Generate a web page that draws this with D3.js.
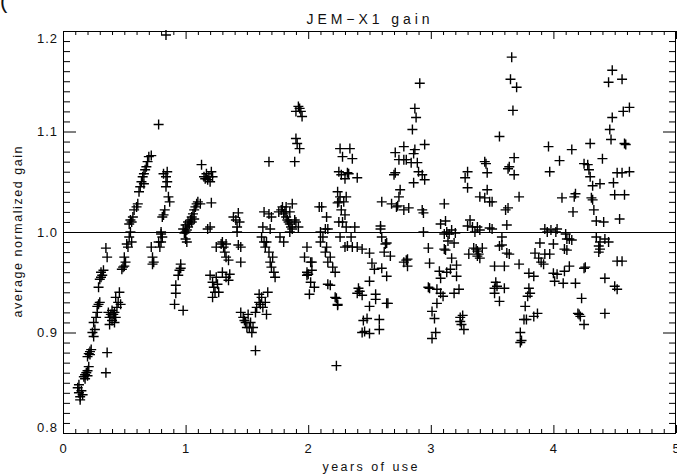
<!DOCTYPE html>
<html>
<head>
<meta charset="utf-8">
<script src="https://cdn.jsdelivr.net/npm/d3@7"></script>
<style>
body{margin:0;background:#fff;}
svg text{font-family:"Liberation Sans",Arial,sans-serif;fill:#111;}
</style>
</head>
<body>
<div id="gain_plot"></div>
<script>
/* JEM-X1 gain vs years of use, plus markers, IDL style frame */
var title="JEM\u2212X1 gain",
xLabel="years of use",
yLabel="average normalized gain";

var xTicks=[0,1,2,3,4,5],
yTicks=[0.8,0.9,1.0,1.1,1.2],
yTickLabels=["0.8","0.9","1.0","1.1","1.2"];
var refLevel=1.0;

// [years, gain], one array per year of use
var year0=[[0.12,0.845],[0.13,0.840],[0.14,0.836],[0.15,0.842],[0.13,0.848],[0.16,0.838],[0.14,0.833],
[0.17,0.856],[0.18,0.858],[0.19,0.860],[0.20,0.862],[0.18,0.854],[0.21,0.866],[0.20,0.857],
[0.20,0.876],[0.21,0.879],[0.22,0.881],[0.23,0.883],[0.22,0.878],
[0.24,0.900],[0.25,0.896],[0.26,0.903],[0.25,0.910],
[0.27,0.915],[0.28,0.920],[0.29,0.928],[0.30,0.930],[0.28,0.926],
[0.29,0.945],[0.30,0.953],[0.31,0.955],[0.32,0.957],[0.33,0.962],[0.31,0.960],
[0.35,0.984],[0.36,0.975],[0.36,0.880],[0.35,0.860],
[0.37,0.920],[0.38,0.915],[0.39,0.918],[0.40,0.922],[0.41,0.918],[0.42,0.920],[0.40,0.912],[0.43,0.915],
[0.44,0.925],[0.45,0.930],[0.43,0.935],[0.46,0.940],[0.38,0.908],[0.42,0.910],[0.47,0.928],
[0.48,0.963],[0.49,0.965],[0.50,0.966],[0.51,0.970],[0.50,0.975],[0.52,0.988],[0.53,0.985],[0.54,0.995],
[0.55,1.000],[0.56,0.990],[0.54,1.008],[0.55,1.012],[0.56,1.010],[0.57,1.015],
[0.58,1.022],[0.60,1.025],[0.61,1.028],
[0.62,1.040],[0.63,1.045],[0.64,1.050],[0.65,1.055],[0.66,1.058],[0.67,1.062],[0.68,1.065],[0.69,1.070],
[0.66,1.048],[0.70,1.075],[0.72,1.076],[0.78,1.107],[0.84,1.196],
[0.72,0.985],[0.73,0.975],[0.73,0.968],[0.74,0.970],[0.78,0.990],[0.79,0.985],[0.80,0.990],[0.81,0.995],[0.80,0.998],
[0.82,1.058],[0.84,1.055],[0.85,1.050],[0.84,1.045],[0.86,1.035],[0.87,1.030],[0.85,1.060],[0.83,1.022],
[0.82,1.017],[0.81,1.015],[0.80,1.000],
[0.96,0.964],[0.94,0.957],[0.95,0.962],[0.92,0.947],[0.92,0.939],[0.91,0.928],[0.98,0.922],[0.96,0.968],
[0.99,0.999],[0.98,1.003]];

var year1=[[1.00,1.000],[1.01,1.002],[1.02,1.005],[1.00,0.993],[1.01,0.990],[1.03,1.008],[1.05,1.010],
[1.00,1.007],[1.02,1.010],[1.04,1.012],[1.05,1.015],[1.06,1.018],[1.07,1.022],[1.08,1.025],[1.09,1.028],
[1.10,1.030],[1.07,1.013],[1.12,1.028],[1.18,1.003],[1.20,1.005],[1.21,1.029],
[1.13,1.067],[1.15,1.055],[1.16,1.053],[1.17,1.058],[1.18,1.052],[1.19,1.055],[1.20,1.050],[1.22,1.055],[1.21,1.060],
[1.25,0.985],[1.25,0.955],[1.26,0.948],[1.27,0.940],
[1.20,0.957],[1.22,0.950],[1.23,0.945],[1.24,0.940],[1.22,0.935],
[1.29,0.988],[1.30,0.990],[1.31,0.985],[1.33,0.988],[1.32,0.980],[1.33,0.975],[1.35,0.972],
[1.30,0.960],[1.33,0.955],[1.35,0.952],[1.36,0.958],
[1.43,0.987],[1.45,0.985],[1.45,0.970],[1.42,1.000],
[1.39,1.015],[1.41,1.012],[1.42,1.005],[1.43,1.019],[1.44,1.010],
[1.45,0.920],[1.47,0.915],[1.48,0.912],[1.49,0.910],[1.50,0.905],[1.51,0.918],[1.53,0.910],[1.52,0.905],
[1.54,0.900],[1.55,0.905],[1.57,0.920],[1.58,0.925],[1.60,0.930],[1.62,0.935],[1.61,0.928],[1.63,0.925],
[1.65,0.930],[1.67,0.940],[1.60,0.938],[1.66,0.918],[1.57,0.882],
[1.62,0.995],[1.64,0.990],[1.66,0.990],[1.65,0.985],[1.68,0.980],[1.69,0.970],[1.70,0.965],[1.72,0.960],
[1.73,0.955],[1.71,0.975],[1.69,1.003],
[1.63,1.005],[1.64,1.020],[1.68,1.018],[1.70,1.015],[1.68,1.070],
[1.76,1.020],[1.78,1.022],[1.79,1.025],[1.80,1.018],[1.81,1.020],[1.82,1.015],[1.83,1.012],[1.84,1.010],
[1.85,1.008],[1.86,1.005],[1.82,1.025],[1.85,1.020],[1.87,1.028],[1.89,1.012],[1.90,1.010],[1.87,1.003],
[1.85,1.000],[1.92,1.005],
[1.90,1.120],[1.92,1.125],[1.93,1.123],[1.94,1.120],[1.95,1.115],
[1.90,1.093],[1.91,1.088],[1.93,1.083],[1.89,1.070],
[1.77,0.995],[1.80,0.990],[1.97,0.975],[1.99,0.960],[1.99,0.985]];

var year2=[[2.00,0.958],[2.02,0.950],[2.03,0.962],[2.02,0.970],[2.05,0.945],[2.03,0.970],[2.01,0.938],[1.99,0.957],
[2.10,0.990],[2.12,0.995],[2.14,0.980],[2.15,0.985],[2.16,0.970],[2.18,0.975],[2.20,0.965],[2.22,0.960],[2.10,1.000],
[2.16,0.948],[2.18,0.947],[2.22,0.935],[2.24,0.928],[2.23,0.867],
[2.09,1.025],[2.15,1.015],[2.14,1.003],[2.11,1.025],[2.16,1.003],[2.24,1.029],
[2.26,1.083],[2.28,1.075],[2.25,1.060],[2.27,1.057],[2.30,1.053],
[2.24,1.040],[2.25,1.030],[2.26,1.035],[2.27,1.022],[2.25,1.010],[2.31,1.005],
[2.34,1.083],[2.36,1.073],[2.32,1.059],[2.33,1.058],[2.40,1.054],[2.29,1.030],[2.31,1.035],[2.30,1.017],
[2.28,1.010],[2.38,1.005],
[2.26,0.995],[2.30,0.985],[2.36,0.985],[2.40,0.985],[2.35,0.995],[2.32,0.986],
[2.44,0.983],[2.50,0.979],[2.52,0.969],[2.54,0.963],[2.50,0.951],[2.60,0.964],[2.64,0.956],[2.67,0.976],[2.64,0.989],
[2.41,0.944],[2.42,0.941],[2.40,0.939],[2.44,0.937],[2.55,0.938],[2.55,0.933],[2.50,0.926],[2.64,0.929],[2.65,0.929],
[2.48,0.914],[2.58,0.913],[2.46,0.901],[2.50,0.899],[2.58,0.903],[2.45,0.912],[2.44,0.900],
[2.23,0.934],[2.24,0.927],
[2.81,0.973],[2.81,0.966],[2.80,0.972],[2.78,0.970],
[2.60,0.995],[2.63,0.988],[2.62,0.980],[2.59,1.003],[2.59,1.006],
[2.60,1.030],[2.68,1.028],[2.72,1.025],[2.78,1.022],[2.73,1.026],[2.82,1.024],
[2.91,1.148],[2.87,1.123],[2.88,1.114],[2.85,1.102],[2.95,1.087],[2.78,1.085],[2.71,1.079],[2.87,1.082],
[2.86,1.078],[2.78,1.072],[2.80,1.072],[2.74,1.072],[2.89,1.069],[2.84,1.069],[2.71,1.059],[2.70,1.057],
[2.90,1.060],[2.93,1.057],[2.95,1.052],[2.86,1.049],[2.75,1.042],[2.74,1.035],[2.93,1.022],[2.94,1.019],[2.94,1.000],
[2.98,0.984],[2.99,0.969],[2.98,0.945]];

var year3=[[3.07,0.961],[3.08,0.954],[2.99,0.944],[3.05,0.943],[3.08,0.939],[3.10,0.936],[3.05,0.929],[3.01,0.921],
[3.03,0.914],[3.04,0.900],[3.01,0.894],
[3.11,0.983],[3.17,0.974],[3.16,0.963],[3.21,0.956],[3.19,0.939],[3.23,0.943],[3.19,0.989],[3.14,0.991],
[3.12,0.982],[3.13,0.960],[3.21,0.967],
[3.24,0.911],[3.25,0.908],[3.27,0.903],[3.24,0.915],[3.26,0.917],
[3.31,0.978],[3.38,0.981],[3.39,0.978],[3.40,0.974],[3.42,0.984],[3.37,0.983],[3.35,0.984],[3.38,0.976],
[3.52,0.966],[3.60,0.966],[3.64,0.978],[3.56,0.986],[3.52,0.944],[3.54,0.946],[3.60,0.944],[3.52,0.939],
[3.56,0.931],[3.53,0.950],
[3.72,0.968],[3.80,0.959],[3.84,0.956],[3.80,0.944],[3.81,0.939],[3.79,0.936],[3.77,0.926],[3.87,0.919],
[3.84,0.916],[3.76,0.913],[3.78,0.913],[3.73,0.900],[3.74,0.892],[3.73,0.890],
[3.85,0.979],[3.88,0.974],[3.90,0.970],[3.89,0.989],[3.93,0.978],[3.97,0.978],[3.92,0.968],
[3.11,1.028],[3.12,1.011],[3.17,1.002],[3.11,0.998],[3.08,1.008],[3.15,0.998],[3.20,0.999],[3.13,1.000],
[3.30,1.060],[3.28,1.054],[3.30,1.044],[3.32,1.012],[3.34,1.005],[3.36,1.000],[3.30,1.006],[3.38,1.005],[3.40,1.002],
[3.44,1.070],[3.45,1.068],[3.46,1.059],[3.46,1.042],[3.44,1.034],[3.48,1.030],[3.48,1.004],[3.40,1.035],
[3.50,1.030],[3.50,1.003],
[3.56,1.095],[3.66,1.174],[3.65,1.152],[3.70,1.144],[3.67,1.121],[3.68,1.074],[3.64,1.065],[3.63,1.063],
[3.68,1.057],[3.72,1.035],[3.61,1.022],[3.63,1.024],[3.62,1.007],[3.58,0.995],[3.58,0.987],[3.62,0.979],
[3.96,1.085],[3.97,1.060],[3.93,1.003],[3.95,1.000],[3.98,1.002]];

var year4=[[4.05,1.071],[4.15,1.082],[4.07,1.034],[4.17,1.035],[4.18,1.038],[4.16,1.020],
[4.25,1.068],[4.28,1.067],[4.29,1.062],[4.30,1.088],[4.40,1.073],[4.32,1.046],[4.38,1.048],[4.31,1.034],
[4.32,1.032],[4.33,1.022],[4.35,1.011],[4.41,1.010],[4.30,1.055],
[4.48,1.161],[4.45,1.149],[4.56,1.152],[4.57,1.120],[4.62,1.124],[4.48,1.114],[4.46,1.102],[4.47,1.092],
[4.58,1.088],[4.59,1.087],
[4.49,1.049],[4.52,1.059],[4.56,1.059],[4.62,1.060],[4.50,1.037],[4.58,1.037],[4.54,1.013],
[4.00,0.988],[4.09,0.983],[4.00,0.959],[4.01,0.951],[4.03,0.958],[4.09,0.961],[4.13,0.966],[4.08,0.949],
[4.18,0.949],[4.25,0.964],[4.23,0.934],[4.21,0.918],[4.22,0.916],[4.25,0.908],[4.20,0.919],
[4.37,0.986],[4.38,0.983],[4.45,0.990],[4.42,0.954],[4.42,0.919],[4.50,0.946],[4.52,0.943],[4.52,0.971],[4.56,0.971],
[4.11,0.993],[4.13,0.993],[4.02,1.000],[4.10,0.998],[4.03,1.003],[4.15,0.992],[4.11,0.982],
[4.35,0.995],[4.38,0.990],[4.42,0.993],[4.37,0.980],[4.26,0.965]];

var margin={top:31,right:1,bottom:43,left:63},
W=677,H=476,
w=W-margin.left-margin.right,
h=H-margin.top-margin.bottom;

var svg=d3.select("#gain_plot")
.append("svg")
.attr("width",W)
.attr("height",H);

// stray glyph in the corner of the original
svg.append("text").attr("x",0).attr("y",8)
.style("font-size","22px").text("(");

var g=svg.append("g")
.attr("transform",`translate(${margin.left},${margin.top})`);

var xScale=d3.scaleLinear().domain([0,5]).range([0,w]);
var yScale=d3.scaleLinear().domain([0.8,1.2]).range([h,0]);

var xMinor=d3.range(0,51).filter(function(i){return i%10!=0;}).map(function(i){return i/10;});
var yMinor=d3.range(80,121).filter(function(i){return i%10!=0;}).map(function(i){return i/100;});

function styleAxis(sel){
sel.select(".domain").remove();
sel.selectAll("line").attr("stroke","#000").attr("stroke-width",1);
sel.selectAll("text").style("font-size","13px").style("letter-spacing","1px").attr("fill","#111");
}

// bottom
g.append("g").attr("transform",`translate(0,${h})`)
.call(d3.axisBottom(xScale).tickValues(xTicks).tickSize(-8).tickPadding(11).tickFormat(d3.format("d")))
.call(styleAxis);
g.append("g").attr("transform",`translate(0,${h})`)
.call(d3.axisBottom(xScale).tickValues(xMinor).tickSize(-4).tickFormat(""))
.call(styleAxis);
// top
g.append("g")
.call(d3.axisTop(xScale).tickValues(xTicks).tickSize(-8).tickFormat(""))
.call(styleAxis);
g.append("g")
.call(d3.axisTop(xScale).tickValues(xMinor).tickSize(-4).tickFormat(""))
.call(styleAxis);
// left
var yAx=g.append("g")
.call(d3.axisLeft(yScale).tickValues(yTicks).tickSize(-13).tickPadding(5)
.tickFormat(function(d,i){return yTickLabels[i];}))
.call(styleAxis);
yAx.selectAll(".tick text").attr("dy",function(d){
if(d>=1.2)return "0.9em";
if(d<=0.8)return "-0.1em";
return "0.32em";});
g.append("g")
.call(d3.axisLeft(yScale).tickValues(yMinor).tickSize(-7).tickFormat(""))
.call(styleAxis);
// right
g.append("g").attr("transform",`translate(${w},0)`)
.call(d3.axisRight(yScale).tickValues(yTicks).tickSize(-13).tickFormat(""))
.call(styleAxis);
g.append("g").attr("transform",`translate(${w},0)`)
.call(d3.axisRight(yScale).tickValues(yMinor).tickSize(-7).tickFormat(""))
.call(styleAxis);

// frame
g.append("rect").attr("x",0.5).attr("y",0.5)
.attr("width",w-1).attr("height",h)
.attr("fill","none").attr("stroke","#000").attr("stroke-width",1);

// reference level
g.append("line")
.attr("x1",xScale(0)).attr("x2",xScale(5))
.attr("y1",yScale(refLevel)+0.5).attr("y2",yScale(refLevel)+0.5)
.attr("stroke","#000").attr("stroke-width",1);

var pts=year0.concat(year1,year2,year3,year4);
g.selectAll("path.pt")
.data(pts).enter()
.append("path")
.attr("class","pt")
.attr("d","M-5,0H5M0,-5V5")
.attr("transform",function(d){return `translate(${xScale(d[0])},${yScale(d[1])})`;})
.attr("stroke","#000").attr("stroke-width",1.4).attr("fill","none");

// labels
svg.append("text")
.attr("x",368).attr("y",24)
.attr("text-anchor","middle")
.attr("textLength",123).attr("lengthAdjust","spacing")
.style("font-size","14px")
.text(title);

svg.append("text")
.attr("x",370).attr("y",471)
.attr("text-anchor","middle")
.attr("textLength",95).attr("lengthAdjust","spacing")
.style("font-size","12.5px")
.text(xLabel);

svg.append("text")
.attr("transform","translate(22,232)rotate(-90)")
.attr("text-anchor","middle")
.attr("textLength",171).attr("lengthAdjust","spacing")
.style("font-size","12.5px")
.text(yLabel);
</script>
</body>
</html>
